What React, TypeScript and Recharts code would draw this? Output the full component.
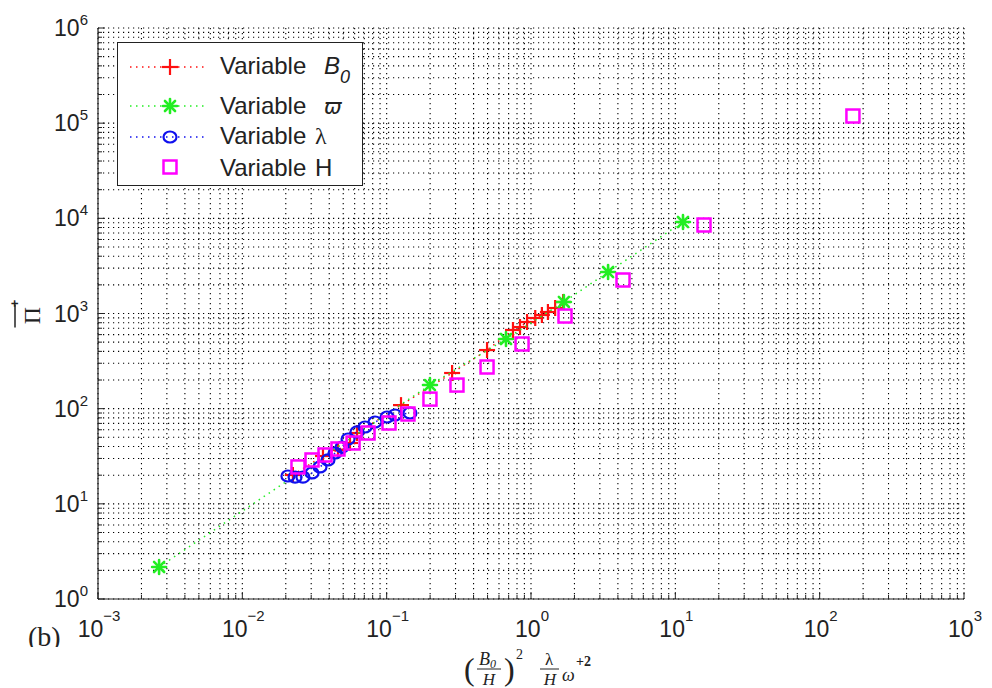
import React from 'react';
import { ScatterChart, Scatter, XAxis, YAxis, CartesianGrid, Legend } from 'recharts';

// ---------------- data ----------------
const xMajorTicks = [0.001, 0.01, 0.1, 1, 10, 100, 1000];
const yMajorTicks = [1, 10, 100, 1000, 10000, 100000, 1000000];
const minorSteps = [2, 3, 4, 5, 6, 7, 8, 9];

const seriesNames = ['Variable', 'Variable', 'Variable', 'Variable'];

const variableB0 = [
  { x: 0.0224, y: 20.1 },
  { x: 0.0362, y: 31.8 },
  { x: 0.046, y: 36.8 },
  { x: 0.0557, y: 43.6 },
  { x: 0.0623, y: 55.5 },
  { x: 0.1257, y: 109 },
  { x: 0.284, y: 237 },
  { x: 0.496, y: 413 },
  { x: 0.75, y: 671 },
  { x: 0.839, y: 721 },
  { x: 0.939, y: 814 },
  { x: 1.07, y: 897 },
  { x: 1.19, y: 964 },
  { x: 1.31, y: 1037 },
  { x: 1.47, y: 1142 },
  { x: 1.67, y: 1321 },
];

const variableOmega = [
  { x: 0.00265, y: 2.17 },
  { x: 0.1995, y: 177 },
  { x: 0.671, y: 540 },
  { x: 1.69, y: 1321 },
  { x: 3.42, y: 2729 },
  { x: 11.3, y: 9146 },
];

const variableLambda = [
  { x: 0.0207, y: 19.6 },
  { x: 0.0232, y: 19.1 },
  { x: 0.0263, y: 19.1 },
  { x: 0.0304, y: 21.1 },
  { x: 0.0345, y: 24.4 },
  { x: 0.0392, y: 28.9 },
  { x: 0.0439, y: 34.2 },
  { x: 0.0491, y: 39.5 },
  { x: 0.054, y: 48.0 },
  { x: 0.0623, y: 56.9 },
  { x: 0.0708, y: 64.2 },
  { x: 0.083, y: 72.4 },
  { x: 0.1006, y: 81.7 },
  { x: 0.1143, y: 85.8 },
  { x: 0.145, y: 90.0 },
];

const variableH = [
  { x: 0.0243, y: 24.4 },
  { x: 0.0304, y: 28.9 },
  { x: 0.0374, y: 32.6 },
  { x: 0.046, y: 37.7 },
  { x: 0.0585, y: 43.6 },
  { x: 0.0743, y: 55.5 },
  { x: 0.1038, y: 70.7 },
  { x: 0.1405, y: 87.9 },
  { x: 0.1995, y: 126 },
  { x: 0.307, y: 177 },
  { x: 0.496, y: 274 },
  { x: 0.867, y: 478 },
  { x: 1.72, y: 941 },
  { x: 4.34, y: 2249 },
  { x: 15.8, y: 8511 },
  { x: 170, y: 118900 },
];

// ---------------- styling ----------------
const RED = '#ff1010';
const GREEN = '#22ee22';
const BLUE = '#1010ee';
const MAGENTA = '#ff00ff';
const INK = '#222';
const SANS = '"Liberation Sans", Arial, Helvetica, sans-serif';
const SERIF = '"Liberation Serif", "Times New Roman", serif';
const DOTS = '1.5 4.5';

const withMinor = (majors: number[]) =>
  majors.flatMap((m, i) => (i < majors.length - 1 ? [m, ...minorSteps.map((k) => k * m)] : [m]));

const xTicks = withMinor(xMajorTicks);
const yTicks = withMinor(yMajorTicks);

const isMajor = (v: number) => Math.abs(Math.log10(v) - Math.round(Math.log10(v))) < 1e-9;
const expOf = (v: number) => {
  const e = Math.round(Math.log10(v));
  return e < 0 ? '\u2212' + Math.abs(e) : String(e);
};

// ---------------- ticks ----------------
const BottomTick = (props: any) => {
  const { x, y, payload } = props;
  const v = payload.value;
  const major = isMajor(v);
  return (
    <g>
      <line x1={x} x2={x} y1={y} y2={y - (major ? 7 : 4)} stroke={INK} strokeWidth={1} />
      {major && (
        <text x={x + 1} y={y + 38} textAnchor="middle" fontFamily={SANS} fontSize={23} fill={INK}>
          10
          <tspan dy={-16} fontSize={15}>
            {expOf(v)}
          </tspan>
        </text>
      )}
    </g>
  );
};

const TopTick = (props: any) => {
  const { x, y, payload } = props;
  const major = isMajor(payload.value);
  return <line x1={x} x2={x} y1={y} y2={y + (major ? 7 : 4)} stroke={INK} strokeWidth={1} />;
};

const LeftTick = (props: any) => {
  const { x, y, payload } = props;
  const v = payload.value;
  const major = isMajor(v);
  return (
    <g>
      <line x1={x} x2={x + (major ? 7 : 4)} y1={y} y2={y} stroke={INK} strokeWidth={1} />
      {major && (
        <text x={x - 10} y={y + 8} textAnchor="end" fontFamily={SANS} fontSize={23} fill={INK}>
          10
          <tspan dy={-11} fontSize={15}>
            {expOf(v)}
          </tspan>
        </text>
      )}
    </g>
  );
};

const RightTick = (props: any) => {
  const { x, y, payload } = props;
  const major = isMajor(payload.value);
  return <line x1={x} x2={x - (major ? 7 : 4)} y1={y} y2={y} stroke={INK} strokeWidth={1} />;
};

// ---------------- axis titles ----------------
const XAxisTitle = (props: any) => {
  const vb = props.viewBox || { x: 98, y: 599, width: 866, height: 89 };
  const cx = vb.x + vb.width / 2;
  const b = vb.y;
  return (
    <g fill={INK} fontFamily={SERIF}>
      <text x={cx - 67} y={b + 81} fontSize={32}>(</text>
      <text x={cx - 52} y={b + 66} fontSize={18} fontStyle="italic">
        B<tspan fontSize={12} dy={3}>0</tspan>
      </text>
      <line x1={cx - 54} x2={cx - 30} y1={b + 70} y2={b + 70} stroke={INK} strokeWidth={1} />
      <text x={cx - 42} y={b + 86} fontSize={17} fontStyle="italic" textAnchor="middle">H</text>
      <text x={cx - 27} y={b + 81} fontSize={32}>)</text>
      <text x={cx - 15} y={b + 60} fontSize={14}>2</text>
      <text x={cx + 18} y={b + 66} fontSize={17} textAnchor="middle">λ</text>
      <line x1={cx + 9} x2={cx + 28} y1={b + 70} y2={b + 70} stroke={INK} strokeWidth={1} />
      <text x={cx + 19} y={b + 86} fontSize={17} fontStyle="italic" textAnchor="middle">H</text>
      <text x={cx + 31} y={b + 82} fontSize={18} fontStyle="italic">ω</text>
      <text x={cx + 45} y={b + 67} fontSize={14} fontWeight="bold">+2</text>
      <defs>
        <clipPath id="panel-tag-clip">
          <rect x={0} y={b + 10} width={75} height={38} />
        </clipPath>
      </defs>
      <text x={28} y={b + 47} fontSize={28} clipPath="url(#panel-tag-clip)">(b)</text>
    </g>
  );
};

const YAxisTitle = (props: any) => {
  const vb = props.viewBox || { x: 0, y: 28, width: 98, height: 571 };
  const cy = vb.y + vb.height / 2;
  return (
    <g transform={`translate(${vb.x + 27}, ${cy + 2}) rotate(-90)`} fill={INK}>
      <text x={0} y={13} textAnchor="middle" fontSize={24} fontFamily={SERIF}>Π</text>
      <line x1={-12} x2={11} y1={-12} y2={-12} stroke={INK} strokeWidth={1.5} />
      <text x={12} y={-8} textAnchor="middle" fontSize={13} fontFamily={SANS} fontWeight="bold">+</text>
    </g>
  );
};

// ---------------- markers ----------------
const PlusMark = ({ cx, cy, s = 8 }: any) => (
  <g stroke={RED} strokeWidth={2.2}>
    <line x1={cx - s} x2={cx + s} y1={cy} y2={cy} />
    <line x1={cx} x2={cx} y1={cy - s} y2={cy + s} />
  </g>
);

const StarMark = ({ cx, cy, s = 7 }: any) => {
  const d = s * 0.72;
  return (
    <g stroke={GREEN} strokeWidth={2.6} strokeLinecap="round">
      <line x1={cx - s} x2={cx + s} y1={cy} y2={cy} />
      <line x1={cx} x2={cx} y1={cy - s} y2={cy + s} />
      <line x1={cx - d} x2={cx + d} y1={cy - d} y2={cy + d} />
      <line x1={cx - d} x2={cx + d} y1={cy + d} y2={cy - d} />
    </g>
  );
};

const CircleMark = ({ cx, cy }: any) => (
  <ellipse cx={cx} cy={cy} rx={6.5} ry={5.5} fill="none" stroke={BLUE} strokeWidth={2.2} />
);

const SquareMark = ({ cx, cy }: any) => (
  <rect x={cx - 6.5} y={cy - 6.5} width={13} height={13} fill="none" stroke={MAGENTA} strokeWidth={2.5} />
);

// ---------------- legend ----------------
const LegendBox = () => {
  const rows = [
    { y: 24, base: 31, color: RED, line: true, mark: <PlusMark cx={52} cy={24} /> },
    { y: 63, base: 71, color: GREEN, line: true, mark: <StarMark cx={52} cy={63} /> },
    { y: 94, base: 101, color: BLUE, line: true, mark: <CircleMark cx={52} cy={94} /> },
    { y: 124, base: 133, color: MAGENTA, line: false, mark: <SquareMark cx={52} cy={124} /> },
  ];
  return (
    <div
      style={{
        width: 246,
        height: 144,
        border: `1.5px solid ${INK}`,
        background: '#fff',
        boxSizing: 'border-box',
      }}
    >
      <svg width={243} height={141} style={{ display: 'block' }}>
        {rows.map((r, i) => (
          <g key={i}>
            {r.line && (
              <line x1={12} x2={88} y1={r.y} y2={r.y} stroke={r.color} strokeWidth={1.5} strokeDasharray={DOTS} />
            )}
            {r.mark}
            <text x={102} y={r.base} fontFamily={SANS} fontSize={24} fill={INK}>
              {seriesNames[i]}
            </text>
            {i === 0 && (
              <text x={206} y={r.base} fontFamily={SANS} fontSize={24} fontStyle="italic" fill={INK}>
                B<tspan fontSize={18} dy={9}>0</tspan>
              </text>
            )}
            {i === 1 && (
              <text x={206} y={r.base} fontFamily='"DejaVu Sans", sans-serif' fontSize={21} fontStyle="italic" fill={INK}>
                ϖ
              </text>
            )}
            {i === 2 && (
              <text x={197} y={r.base} fontFamily={SERIF} fontSize={24} fill={INK}>
                λ
              </text>
            )}
            {i === 3 && (
              <text x={197} y={r.base} fontFamily={SANS} fontSize={24} fill={INK}>
                H
              </text>
            )}
          </g>
        ))}
      </svg>
    </div>
  );
};

// ---------------- chart ----------------
export default function App() {
  return (
    <div style={{ position: 'absolute', left: 0, top: 0, width: 992, height: 688, background: '#fff' }}>
      <ScatterChart width={992} height={688} margin={{ top: 28, right: 28, bottom: 0, left: 0 }}>
        <CartesianGrid
          xAxisId="x"
          yAxisId="y"
          stroke="#000"
          strokeWidth={1.1}
          strokeDasharray="1.2 3.8"
        />
        <XAxis
          xAxisId="x"
          dataKey="x"
          type="number"
          scale="log"
          domain={[0.001, 1000]}
          allowDataOverflow
          ticks={xTicks}
          interval={0}
          tickSize={0}
          tickMargin={0}
          tickLine={false}
          tick={<BottomTick />}
          axisLine={{ stroke: INK, strokeWidth: 1.2 }}
          height={89}
          label={{ value: '', content: (p: any) => <XAxisTitle {...p} /> }}
        />
        <XAxis
          xAxisId="top"
          orientation="top"
          dataKey="x"
          type="number"
          scale="log"
          domain={[0.001, 1000]}
          allowDataOverflow
          ticks={xTicks}
          interval={0}
          tickSize={0}
          tickMargin={0}
          tickLine={false}
          tick={<TopTick />}
          axisLine={{ stroke: INK, strokeWidth: 1.2 }}
          height={0}
        />
        <YAxis
          yAxisId="y"
          dataKey="y"
          type="number"
          scale="log"
          domain={[1, 1000000]}
          allowDataOverflow
          ticks={yTicks}
          interval={0}
          tickSize={0}
          tickMargin={0}
          tickLine={false}
          tick={<LeftTick />}
          axisLine={{ stroke: INK, strokeWidth: 1.2 }}
          width={98}
          label={{ value: '', content: (p: any) => <YAxisTitle {...p} /> }}
        />
        <YAxis
          yAxisId="right"
          orientation="right"
          dataKey="y"
          type="number"
          scale="log"
          domain={[1, 1000000]}
          allowDataOverflow
          ticks={yTicks}
          interval={0}
          tickSize={0}
          tickMargin={0}
          tickLine={false}
          tick={<RightTick />}
          axisLine={{ stroke: INK, strokeWidth: 1.2 }}
          width={0}
        />
        <Legend
          layout="vertical"
          align="center"
          verticalAlign="middle"
          wrapperStyle={{ left: 117, top: 42, width: 246, height: 144 }}
          content={() => <LegendBox />}
        />
        <Scatter
          name="B0"
          data={variableB0}
          xAxisId="x"
          yAxisId="y"
          fill={RED}
          line={{ stroke: RED, strokeWidth: 1.5, strokeDasharray: DOTS }}
          lineType="joint"
          shape={(p: any) => <PlusMark cx={p.cx} cy={p.cy} />}
          isAnimationActive={false}
        />
        <Scatter
          name="omega"
          data={variableOmega}
          xAxisId="x"
          yAxisId="y"
          fill={GREEN}
          line={{ stroke: GREEN, strokeWidth: 1.5, strokeDasharray: DOTS }}
          lineType="joint"
          shape={(p: any) => <StarMark cx={p.cx} cy={p.cy} />}
          isAnimationActive={false}
        />
        <Scatter
          name="lambda"
          data={variableLambda}
          xAxisId="x"
          yAxisId="y"
          fill={BLUE}
          line={{ stroke: BLUE, strokeWidth: 1.5, strokeDasharray: DOTS }}
          lineType="joint"
          shape={(p: any) => <CircleMark cx={p.cx} cy={p.cy} />}
          isAnimationActive={false}
        />
        <Scatter
          name="H"
          data={variableH}
          xAxisId="x"
          yAxisId="y"
          fill={MAGENTA}
          shape={(p: any) => <SquareMark cx={p.cx} cy={p.cy} />}
          isAnimationActive={false}
        />
      </ScatterChart>
    </div>
  );
}
